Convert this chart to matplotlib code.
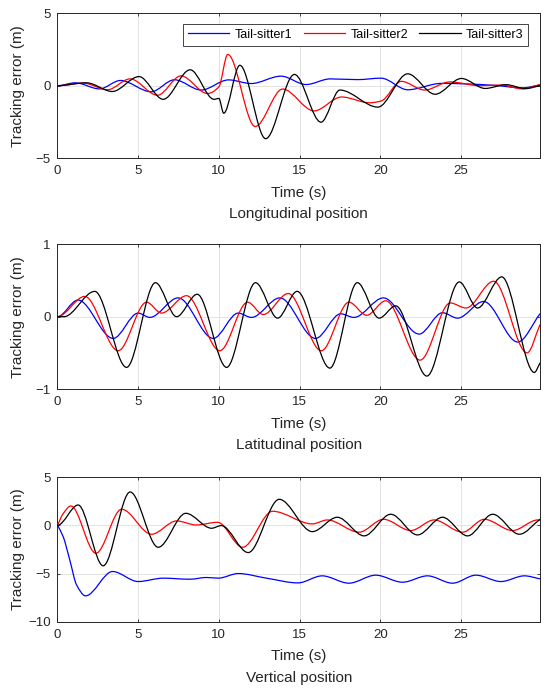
import numpy as np
import matplotlib
matplotlib.use('Agg')
import matplotlib.pyplot as plt
from matplotlib.path import Path
from matplotlib.patches import PathPatch
from matplotlib.lines import Line2D

plt.rcParams['font.family'] = ['Liberation Sans', 'DejaVu Sans']

# ---------------- data ----------------
series_names = ['Tail-sitter1', 'Tail-sitter2', 'Tail-sitter3']
series_colors = ['#0000ff', '#ff0000', '#000000']
panel_titles = ['Longitudinal position', 'Latitudinal position', 'Vertical position']
x_label = 'Time (s)'
y_label = 'Tracking error (m)'
x_ticks = [0, 5, 10, 15, 20, 25]
x_max = 29.9
lon_yticks = [-5, 0, 5]
lat_yticks = [-1, 0, 1]
ver_yticks = [-10, -5, 0, 5]

# Longitudinal position
lon_t1 = [0, 1.1, 2.6, 3.9, 5.8, 7.25, 8.9, 10.6, 12.0, 13.85, 15.4, 16.9, 18.6, 20.05, 21.7, 23.8, 25.4, 27.1, 28.8, 29.9]
lon_v1 = [0, 0.2, -0.22, 0.36, -0.42, 0.41, -0.3, 0.4, 0.15, 0.66, 0.08, 0.47, 0.42, 0.52, -0.28, 0.16, 0.12, 0.02, -0.15, 0.05]
lon_t2 = [0, 1.6, 3.1, 4.5, 6.2, 7.65, 9.3, 10.0, 10.55, 12.25, 13.95, 15.9, 17.6, 19.35, 20.05, 21.3, 22.75, 24.3, 26.2, 27.5, 28.8, 29.9]
lon_v2 = [0, 0.18, -0.28, 0.47, -0.66, 0.68, -0.54, -0.08, 2.16, -2.82, -0.23, -1.74, -0.78, -1.18, -1.06, 0.3, -0.3, 0.26, 0.0, 0.05, -0.22, 0.08]
lon_t3 = [0, 1.8, 3.4, 5.05, 6.55, 8.22, 9.7, 10.0, 10.3, 11.3, 12.9, 14.68, 16.33, 17.5, 19.85, 21.7, 23.4, 25.03, 26.5, 27.8, 29.0, 29.9]
lon_v3 = [0, 0.2, -0.4, 0.63, -0.94, 1.1, -0.94, -0.88, -1.9, 1.41, -3.66, 0.78, -2.52, -0.3, -1.48, 0.82, -0.59, 0.5, -0.19, 0.07, -0.2, 0.0]

# Latitudinal position
lat_t1 = [0, 1.27, 3.45, 5.0, 5.72, 7.48, 9.65, 11.2, 12.02, 13.78, 15.99, 17.55, 18.37, 20.2, 22.41, 23.86, 24.79, 26.41, 28.52, 29.9]
lat_v1 = [0, 0.23, -0.30, 0.05, -0.01, 0.26, -0.30, 0.05, -0.01, 0.26, -0.30, 0.04, -0.01, 0.26, -0.24, 0.055, -0.02, 0.21, -0.35, 0.04]
lat_t2 = [0, 1.69, 3.76, 5.52, 6.45, 8.0, 10.06, 11.78, 12.75, 14.3, 16.35, 18.06, 19.16, 20.34, 22.47, 24.34, 25.31, 27.03, 29.1, 29.9]
lat_v2 = [0, 0.28, -0.47, 0.2, 0.05, 0.29, -0.47, 0.2, 0.03, 0.32, -0.47, 0.2, 0.02, 0.22, -0.6, 0.19, 0.12, 0.49, -0.5, -0.11]
lat_t3 = [0, 0.4, 2.31, 4.28, 6.07, 7.38, 8.66, 10.48, 12.27, 13.64, 14.85, 16.88, 18.58, 19.93, 20.96, 22.89, 24.9, 26.03, 27.53, 29.55, 29.9]
lat_v3 = [0, 0.0, 0.35, -0.70, 0.47, 0.0, 0.31, -0.70, 0.47, -0.02, 0.35, -0.71, 0.47, -0.02, 0.15, -0.82, 0.48, 0.12, 0.55, -0.77, -0.64]

# Vertical position
ver_t1 = [0, 0.35, 0.76, 1.18, 1.74, 3.41, 5.0, 6.55, 8.2, 9.24, 9.96, 11.2, 12.95, 14.9, 16.4, 18.06, 19.72, 21.38, 22.93, 24.48, 25.93, 27.48, 28.93, 29.9]
ver_v1 = [0, -1.17, -3.59, -6.17, -7.31, -4.79, -5.83, -5.48, -5.59, -5.41, -5.48, -5.0, -5.48, -5.97, -5.24, -6.0, -5.17, -5.9, -5.24, -6.0, -5.17, -5.83, -5.24, -5.55]
ver_t2 = [0, 0.35, 0.83, 2.38, 3.97, 5.83, 7.38, 8.6, 9.92, 11.47, 13.33, 15.79, 16.72, 18.69, 20.2, 21.89, 23.34, 25.1, 26.45, 28.2, 29.76, 29.9]
ver_v2 = [0, 1.2, 2.0, -2.9, 1.66, -0.93, 0.45, 0.03, 0.31, -2.28, 1.45, 0.14, 0.55, -0.72, 0.62, -0.55, 0.55, -0.72, 0.62, -0.55, 0.55, 0.53]
ver_t3 = [0, 1.28, 2.83, 4.5, 6.24, 7.95, 9.55, 10.15, 11.82, 13.74, 15.79, 17.34, 19.0, 20.65, 22.31, 23.86, 25.41, 26.97, 28.62, 29.9]
ver_v3 = [0, 2.1, -4.2, 3.45, -2.28, 1.24, -0.31, -0.03, -2.83, 2.69, -0.66, 0.83, -1.1, 1.14, -1.0, 0.83, -1.1, 1.14, -0.93, 0.62]

panels = [
    ([(lon_t1, lon_v1), (lon_t2, lon_v2), (lon_t3, lon_v3)], (-5, 5), lon_yticks),
    ([(lat_t1, lat_v1), (lat_t2, lat_v2), (lat_t3, lat_v3)], (-1, 1), lat_yticks),
    ([(ver_t1, ver_v1), (ver_t2, ver_v2), (ver_t3, ver_v3)], (-10, 5), ver_yticks),
]


def smooth_path(t, v):
    """Smooth Bezier path through the read points (shape-preserving tangents)."""
    t = np.asarray(t, float)
    v = np.asarray(v, float)
    h = np.diff(t)
    d = np.diff(v) / h
    n = len(t)
    m = np.zeros(n)
    for i in range(1, n - 1):
        if d[i - 1] * d[i] > 0:
            w1 = 2 * h[i] + h[i - 1]
            w2 = h[i] + 2 * h[i - 1]
            m[i] = (w1 + w2) / (w1 / d[i - 1] + w2 / d[i])
    # start: at rest unless the curve keeps going the same way past knot 1
    m[0] = d[0] if (n > 2 and d[0] * d[1] > 0) else 0.0
    m[-1] = d[-1]
    verts = [(t[0], v[0])]
    codes = [Path.MOVETO]
    for i in range(n - 1):
        verts.append((t[i] + h[i] / 3, v[i] + m[i] * h[i] / 3))
        verts.append((t[i + 1] - h[i] / 3, v[i + 1] - m[i + 1] * h[i] / 3))
        verts.append((t[i + 1], v[i + 1]))
        codes += [Path.CURVE4] * 3
    return Path(verts, codes)


fig = plt.figure(figsize=(5.5, 6.94), dpi=100)
left = 57.5 / 550
width = 482.5 / 550
tops = [13.3, 244.3, 477.0]
height_px = 144.8
box_color = '#262626'

for k, (series, ylim, yticks) in enumerate(panels):
    bottom = 1 - (tops[k] + height_px) / 694
    ax = fig.add_axes([left, bottom, width, height_px / 694])
    for (t, v), c in zip(series, series_colors):
        ax.add_patch(PathPatch(smooth_path(t, v), fill=False, edgecolor=c,
                               lw=0.9, transform=ax.transData, zorder=3,
                               joinstyle='round', capstyle='round'))
    ax.set_xlim(0, x_max)
    ax.set_ylim(*ylim)
    ax.set_xticks(x_ticks)
    ax.set_yticks(yticks)
    ax.grid(True, color='#dedede', lw=0.6)
    ax.set_axisbelow(True)
    for s in ax.spines.values():
        s.set_color(box_color)
        s.set_linewidth(0.7)
    ax.tick_params(direction='in', length=2.5, width=0.6, colors=box_color,
                   labelcolor='#262626', labelsize=9.5, pad=5,
                   top=True, right=True)
    ax.set_xlabel(x_label, fontsize=11, color='#262626')
    ax.xaxis.set_label_coords(0.5, -0.19)
    ax.set_ylabel(y_label, fontsize=11, color='#262626')
    ax.yaxis.set_label_coords(-0.068, 0.5)
    ax.text(0.5, -0.385, panel_titles[k], transform=ax.transAxes,
            ha='center', va='center', fontsize=11, color='#262626')
    if k == 0:
        handles = [Line2D([], [], color=c, lw=0.9) for c in series_colors]
        leg = ax.legend(handles, series_names, loc='upper right',
                        bbox_to_anchor=(0.976, 0.926), borderaxespad=0,
                        ncol=3, fontsize=9, handlelength=3.3,
                        handletextpad=0.45, columnspacing=0.9,
                        borderpad=0.38, fancybox=False, framealpha=1,
                        edgecolor=box_color)
        leg.get_frame().set_linewidth(0.6)

fig.savefig('out.png', dpi=100)
